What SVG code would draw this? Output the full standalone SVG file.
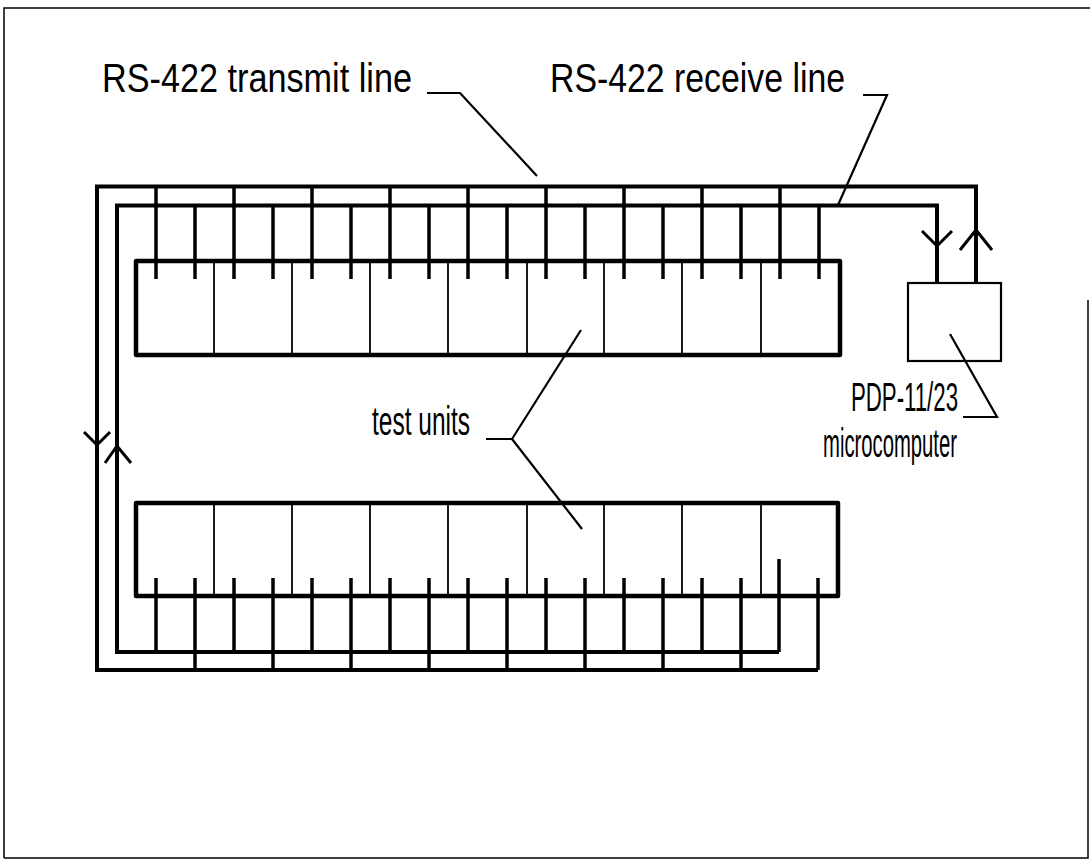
<svg xmlns="http://www.w3.org/2000/svg" width="1090" height="861" viewBox="0 0 1090 861">
<style>
.bus{fill:none;stroke:#000;stroke-width:4;stroke-linejoin:miter}
.tap{stroke:#000;stroke-width:3.5}
.box{fill:none;stroke:#000;stroke-width:4.5;stroke-linejoin:round}
.div{stroke:#000;stroke-width:1.8}
.pdp{fill:none;stroke:#000;stroke-width:2.2}
.ldr{fill:none;stroke:#000;stroke-width:2.2}
.arr{fill:none;stroke:#000;stroke-width:3}
.lbl{font-family:"Liberation Sans",Arial,sans-serif;font-size:40px;fill:#000}
.frame{fill:none;stroke:#000;stroke-width:1.5}
</style>
<rect width="1090" height="861" fill="#fff"/>
<path class="frame" d="M4,858 L4,8 L1090,8 M1088,300 L1088,858 L4,858"/>

<g id="connectors">
  <path class="bus" d="M976,282 L976,186.5 L97,186.5 L97,670 L818,670"/>
  <path class="bus" d="M937,282 L937,205.5 L117,205.5 L117,652 L779,652"/>
  <g class="tap">
    <line x1="156" y1="186" x2="156" y2="279"/><line x1="195" y1="205" x2="195" y2="279"/>
    <line x1="234" y1="186" x2="234" y2="279"/><line x1="273" y1="205" x2="273" y2="279"/>
    <line x1="312" y1="186" x2="312" y2="279"/><line x1="351" y1="205" x2="351" y2="279"/>
    <line x1="390" y1="186" x2="390" y2="279"/><line x1="429" y1="205" x2="429" y2="279"/>
    <line x1="468" y1="186" x2="468" y2="279"/><line x1="507" y1="205" x2="507" y2="279"/>
    <line x1="546" y1="186" x2="546" y2="279"/><line x1="585" y1="205" x2="585" y2="279"/>
    <line x1="624" y1="186" x2="624" y2="279"/><line x1="663" y1="205" x2="663" y2="279"/>
    <line x1="702" y1="186" x2="702" y2="279"/><line x1="741" y1="205" x2="741" y2="279"/>
    <line x1="780" y1="186" x2="780" y2="279"/><line x1="819" y1="205" x2="819" y2="279"/>
  </g>
  <g class="tap">
    <line x1="156" y1="578" x2="156" y2="652"/><line x1="195" y1="578" x2="195" y2="670"/>
    <line x1="234" y1="578" x2="234" y2="652"/><line x1="273" y1="578" x2="273" y2="670"/>
    <line x1="312" y1="578" x2="312" y2="652"/><line x1="351" y1="578" x2="351" y2="670"/>
    <line x1="390" y1="578" x2="390" y2="652"/><line x1="429" y1="578" x2="429" y2="670"/>
    <line x1="468" y1="578" x2="468" y2="652"/><line x1="507" y1="578" x2="507" y2="670"/>
    <line x1="546" y1="578" x2="546" y2="652"/><line x1="585" y1="578" x2="585" y2="670"/>
    <line x1="624" y1="578" x2="624" y2="652"/><line x1="663" y1="578" x2="663" y2="670"/>
    <line x1="702" y1="578" x2="702" y2="652"/><line x1="741" y1="578" x2="741" y2="670"/>
    <line x1="779" y1="559" x2="779" y2="652"/><line x1="818" y1="578" x2="818" y2="670"/>
  </g>
  <polyline class="arr" points="922,231 937,246 952,231"/>
  <polyline class="arr" points="960,250 976,230 992,250"/>
  <polyline class="arr" points="84,432 97,445 110,432"/>
  <polyline class="arr" points="105,463 117,446 131,463"/>
  <polyline class="ldr" points="427,93 460,93 537,176"/>
  <polyline class="ldr" points="863,95 887,95 838,205"/>
  <polyline class="ldr" points="486,439 512,439 581,330"/>
  <line class="ldr" x1="512" y1="439" x2="582" y2="529"/>
  <polyline class="ldr" points="950,334 997,417 963,417"/>
</g>

<g id="units-top">
  <rect class="box" x="136" y="261" width="704" height="94"/>
  <g class="div">
    <line x1="214" y1="263" x2="214" y2="353"/><line x1="292" y1="263" x2="292" y2="353"/>
    <line x1="370" y1="263" x2="370" y2="353"/><line x1="448" y1="263" x2="448" y2="353"/>
    <line x1="527" y1="263" x2="527" y2="353"/><line x1="604" y1="263" x2="604" y2="353"/>
    <line x1="682" y1="263" x2="682" y2="353"/><line x1="761" y1="263" x2="761" y2="353"/>
  </g>
</g>

<g id="units-bottom">
  <rect class="box" x="136" y="503" width="702" height="93"/>
  <g class="div">
    <line x1="214" y1="505" x2="214" y2="594"/><line x1="292" y1="505" x2="292" y2="594"/>
    <line x1="370" y1="505" x2="370" y2="594"/><line x1="448" y1="505" x2="448" y2="594"/>
    <line x1="527" y1="505" x2="527" y2="594"/><line x1="604" y1="505" x2="604" y2="594"/>
    <line x1="682" y1="505" x2="682" y2="594"/><line x1="761" y1="505" x2="761" y2="594"/>
  </g>
</g>

<g id="pdp">
  <rect class="pdp" x="908" y="283" width="93" height="78"/>
</g>

<g id="labels">
  <text class="lbl" x="102" y="92" textLength="310" lengthAdjust="spacingAndGlyphs">RS-422 transmit line</text>
  <text class="lbl" x="550" y="92" textLength="295" lengthAdjust="spacingAndGlyphs">RS-422 receive line</text>
  <text class="lbl" x="372" y="435" textLength="98" lengthAdjust="spacingAndGlyphs">test units</text>
  <text class="lbl" x="851" y="411" textLength="107" lengthAdjust="spacingAndGlyphs">PDP-11/23</text>
  <text class="lbl" x="823" y="457" textLength="134" lengthAdjust="spacingAndGlyphs">microcomputer</text>
</g>
</svg>
